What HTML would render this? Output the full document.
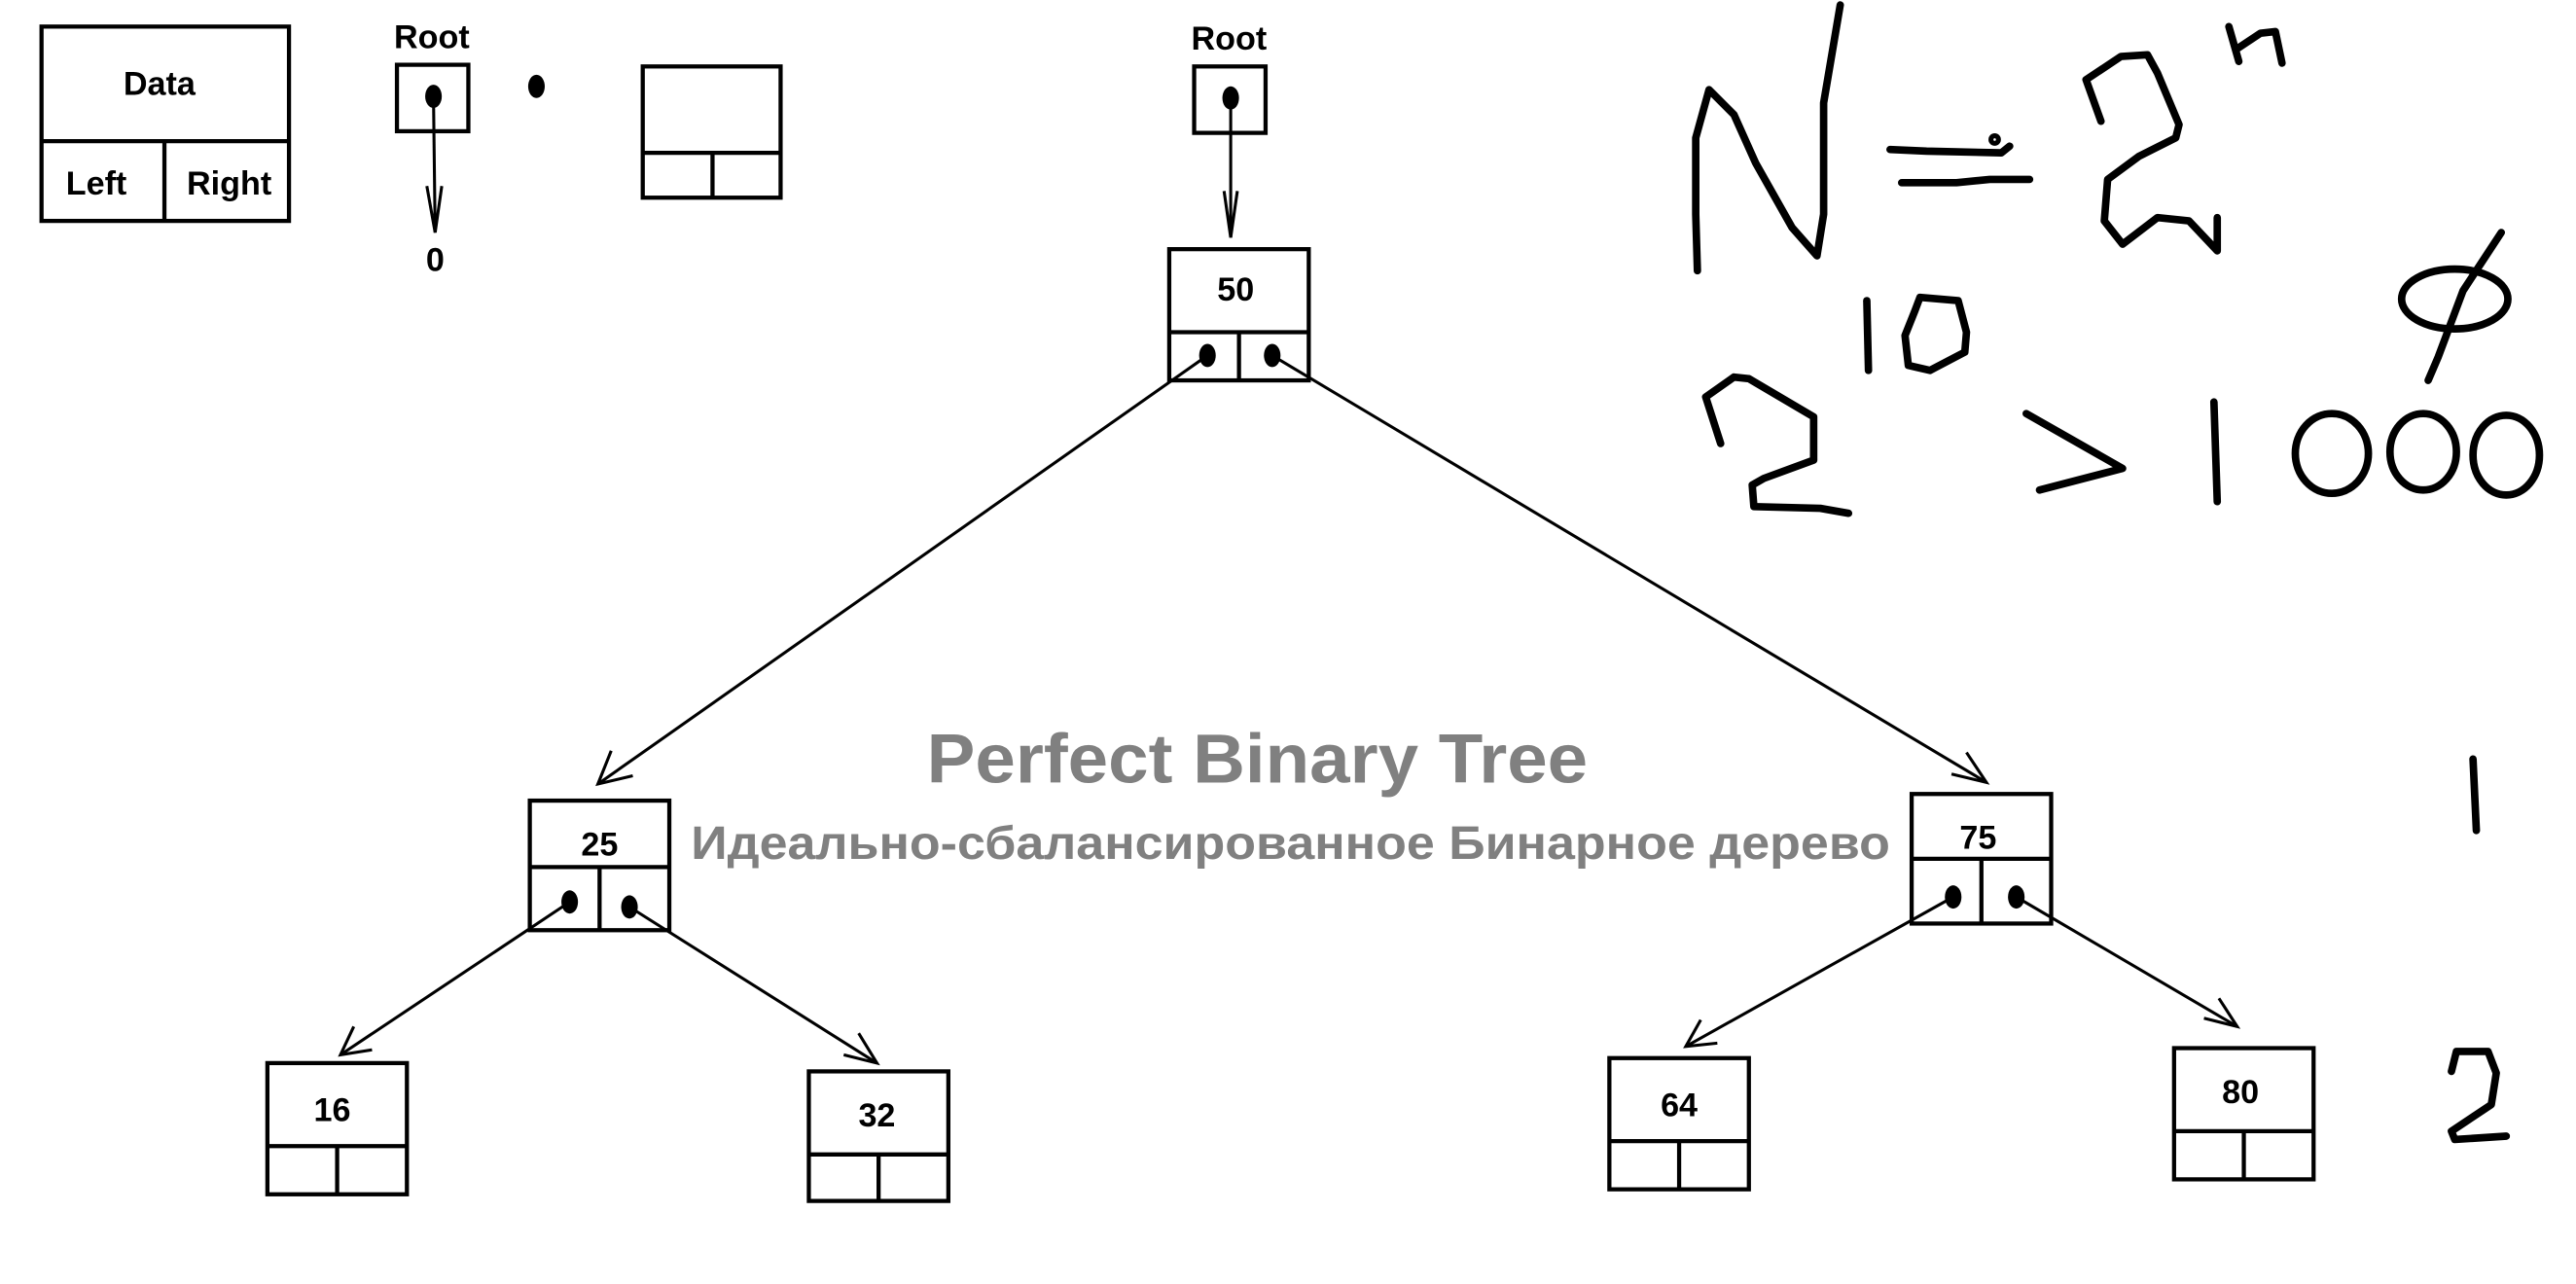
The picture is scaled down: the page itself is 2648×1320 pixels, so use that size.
<!DOCTYPE html>
<html><head><meta charset="utf-8"><style>
html,body{margin:0;padding:0;background:#fff;}
svg{display:block}
text{font-family:"Liberation Sans","DejaVu Sans",sans-serif;font-weight:bold;}
</style></head><body>
<svg width="2648" height="1320" viewBox="0 0 1551 773" preserveAspectRatio="none" xmlns="http://www.w3.org/2000/svg">
<rect width="1551" height="773" fill="#fff"/>
<g fill="none" stroke="#000" stroke-width="2.5">
  <rect x="25" y="16" width="149" height="117"/>
  <line x1="25" y1="85" x2="174" y2="85"/>
  <line x1="99" y1="85" x2="99" y2="133"/>
  <rect x="239" y="39" width="43" height="40"/>
  <rect x="387" y="40" width="83" height="79"/>
  <line x1="387" y1="92" x2="470" y2="92"/>
  <line x1="429" y1="92" x2="429" y2="119"/>
  <rect x="719" y="40" width="43" height="40"/>
  <rect x="704" y="150" width="84" height="79"/>
  <line x1="704" y1="200" x2="788" y2="200"/><line x1="746" y1="200" x2="746" y2="229"/>
  <rect x="319" y="482" width="84" height="78"/>
  <line x1="319" y1="522" x2="403" y2="522"/><line x1="361" y1="522" x2="361" y2="560"/>
  <rect x="1151" y="478" width="84" height="78"/>
  <line x1="1151" y1="517" x2="1235" y2="517"/><line x1="1193" y1="517" x2="1193" y2="556"/>
  <rect x="161" y="640" width="84" height="79"/>
  <line x1="161" y1="690" x2="245" y2="690"/><line x1="203" y1="690" x2="203" y2="719"/>
  <rect x="487" y="645" width="84" height="78"/>
  <line x1="487" y1="695" x2="571" y2="695"/><line x1="529" y1="695" x2="529" y2="723"/>
  <rect x="969" y="637" width="84" height="79"/>
  <line x1="969" y1="687" x2="1053" y2="687"/><line x1="1011" y1="687" x2="1011" y2="716"/>
  <rect x="1309" y="631" width="84" height="79"/>
  <line x1="1309" y1="681" x2="1393" y2="681"/><line x1="1351" y1="681" x2="1351" y2="710"/>
</g>
<g fill="none" stroke="#000" stroke-width="1.8">
  <line x1="261" y1="58" x2="262" y2="140"/><path d="M257,112 L262,140 L266,112"/>
  <line x1="741" y1="59" x2="741" y2="143"/><path d="M737,115 L741,143 L745,115"/>
  <line x1="727" y1="214" x2="360" y2="472"/><path d="M368,452 L360,472 L381,467"/>
  <line x1="766" y1="214" x2="1196" y2="471"/><path d="M1175,466 L1196,471 L1184,453"/>
  <line x1="343" y1="543" x2="205" y2="635"/><path d="M213,618 L205,635 L224,632"/>
  <line x1="379" y1="546" x2="528" y2="640"/><path d="M508,635 L528,640 L517,622"/>
  <line x1="1176" y1="540" x2="1015" y2="630"/><path d="M1024,614 L1015,630 L1034,628"/>
  <line x1="1214" y1="540" x2="1347" y2="618"/><path d="M1327,613 L1347,618 L1336,601"/>
</g>
<g fill="#000">
  <ellipse cx="261" cy="58" rx="5" ry="7"/>
  <ellipse cx="323" cy="52" rx="5" ry="7"/>
  <ellipse cx="741" cy="59" rx="5" ry="7"/>
  <ellipse cx="727" cy="214" rx="5" ry="7"/>
  <ellipse cx="766" cy="214" rx="5" ry="7"/>
  <ellipse cx="343" cy="543" rx="5" ry="7"/>
  <ellipse cx="379" cy="546" rx="5" ry="7"/>
  <ellipse cx="1176" cy="540" rx="5" ry="7"/>
  <ellipse cx="1214" cy="540" rx="5" ry="7"/>
</g>
<g font-size="20" text-anchor="middle" fill="#000">
  <text x="96" y="57">Data</text>
  <text x="58" y="117">Left</text>
  <text x="138" y="117">Right</text>
  <text x="260" y="29">Root</text>
  <text x="262" y="163">0</text>
  <text x="740" y="30">Root</text>
  <text x="744" y="181">50</text>
  <text x="361" y="515">25</text>
  <text x="1191" y="511">75</text>
  <text x="200" y="675">16</text>
  <text x="528" y="678">32</text>
  <text x="1011" y="672">64</text>
  <text x="1349" y="664">80</text>
</g>
<text x="558" y="471" font-size="42" textLength="398" lengthAdjust="spacingAndGlyphs" fill="#808080">Perfect Binary Tree</text>
<text x="416" y="517" font-size="28" textLength="722" lengthAdjust="spacingAndGlyphs" fill="#808080">Идеально-сбалансированное Бинарное дерево</text>
<g fill="none" stroke="#000" stroke-width="4.5" stroke-linecap="round" stroke-linejoin="round">
  <path d="M1022,163 L1021,129 L1021,83 L1029,54 L1044,69 L1057,98 L1079,137 L1094,154 L1098,129 L1098,62 L1108,3"/>
  <path d="M1138,90 L1160,91 L1205,92 L1210,88"/>
  <path d="M1145,110 L1178,110 L1198,108 L1222,108"/>
  <circle cx="1201" cy="84" r="1.5"/>
  <path d="M1265,73 L1256,48 L1277,34 L1293,33 L1299,44 L1312,75 L1310,83 L1288,94 L1269,108 L1267,133 L1278,147 L1299,131 L1318,133 L1335,151 L1335,131"/>
  <path d="M1348,37 L1342,16 M1346,30 L1361,20 L1370,19 L1374,38"/>
  <path d="M1124,181 L1125,223"/>
  <path d="M1156,179 L1179,181 L1184,200 L1183,212 L1162,223 L1149,220 L1147,202 L1153,187 Z"/>
  <path d="M1036,267 L1027,239 L1044,227 L1053,228 L1092,251 L1092,277 L1062,288 L1055,292 L1056,305 L1096,306 L1113,309"/>
  <path d="M1220,249 L1278,282 L1228,295"/>
  <path d="M1333,242 L1335,302"/>
  <ellipse cx="1404" cy="273" rx="22" ry="24"/>
  <ellipse cx="1459" cy="272" rx="20" ry="23"/>
  <ellipse cx="1509" cy="274" rx="20" ry="24"/>
  <ellipse cx="1478" cy="180" rx="32" ry="18"/>
  <path d="M1506,140 L1483,175 L1468,215 L1462,229"/>
  <path d="M1489,457 L1491,500"/>
  <path d="M1476,645 L1479,633 L1498,633 L1503,646 L1500,665 L1476,681 L1478,686 L1509,684"/>
</g>
</svg>
</body></html>
